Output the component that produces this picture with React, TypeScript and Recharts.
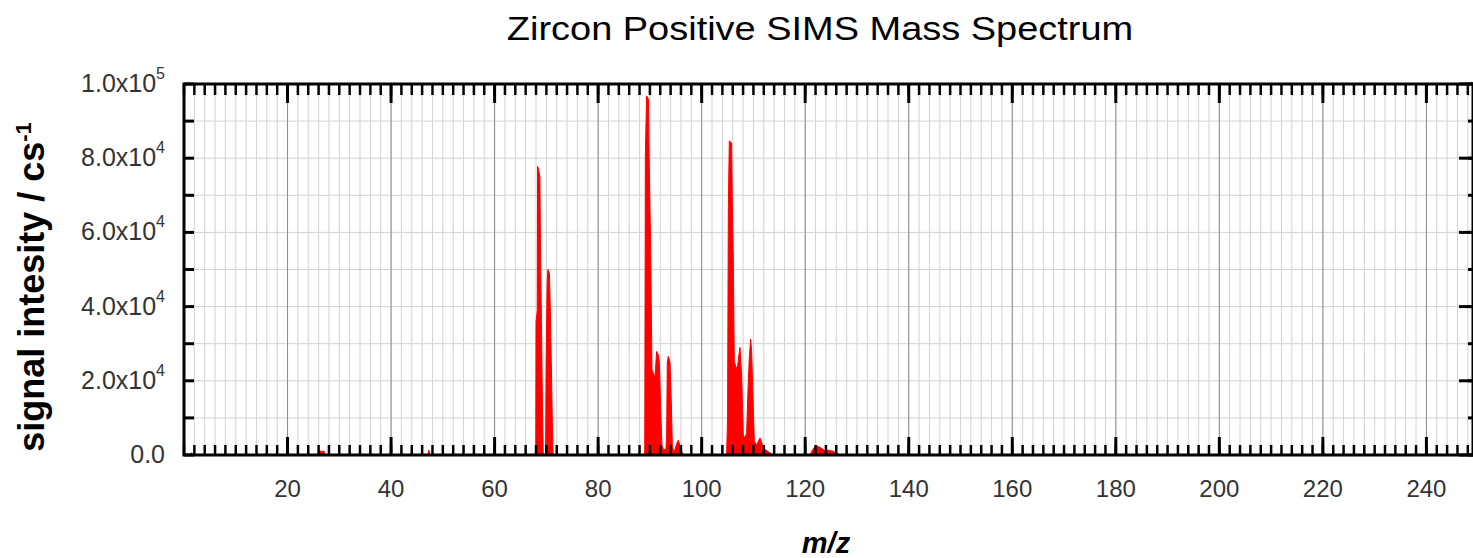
import { AreaChart, Area, XAxis, YAxis, CartesianGrid, ReferenceArea } from 'recharts';

// spectrum (m/z, counts per second)
const mz = [
  0, 1.1, 1.4, 1.7, 15.5, 15.8, 16.1, 26.0, 26.2, 26.6, 27.0, 27.3, 47.1, 47.3, 47.5,
  67.95, 68.0, 68.25, 68.3, 68.5, 68.75, 68.85, 69.05, 69.25, 69.4,
  69.85, 69.95, 70.15, 70.3, 70.6, 70.75, 70.95, 71.15, 71.3,
  89.0, 89.12, 89.35, 89.7, 89.88, 90.14, 90.27, 90.4, 90.66, 90.98, 91.3, 91.62, 91.82,
  91.95, 92.14, 92.33, 92.6, 93.1, 93.23, 93.36, 93.55, 93.88, 94.13, 94.33, 94.65,
  95.16, 95.49, 95.81, 96.13, 96.45,
  104.82, 105.0, 105.15, 105.34, 105.79, 105.92, 106.11, 106.3, 106.56, 106.88, 107.2,
  107.4, 107.72, 107.91, 108.04, 108.37, 108.69, 109.01, 109.2, 109.46, 109.65, 109.84,
  110.17, 110.62, 111.26, 111.58, 111.9, 112.87, 113.84,
  120.9, 121.6, 122.2, 122.9, 123.8, 124.5, 125.4, 126.7,
  138.9, 139.1, 139.3, 249,
];
const counts = [
  0, 0, 600, 0, 0, 500, 0, 0, 1200, 900, 1100, 0, 0, 1300, 0,
  0, 36000, 39000, 77800, 77000, 75000, 58000, 36000, 12000, 0,
  0, 24000, 46500, 50000, 49000, 40000, 25000, 9000, 0,
  0, 80000, 96800, 96000, 77600, 56000, 40000, 23000, 22000, 21000, 27900, 27000, 25000,
  19000, 10000, 2700, 1500, 1500, 5000, 25000, 26600, 25000, 14400, 2700, 500,
  3000, 4000, 2500, 1000, 0,
  0, 10000, 66700, 84700, 84000, 68500, 53200, 25200, 24000, 23000, 27000,
  29000, 21600, 12000, 5400, 4500, 6000, 20000, 26000, 31200, 28000, 19000,
  3700, 2700, 4600, 3500, 1800, 900, 0,
  0, 1800, 2500, 2000, 1200, 1300, 1000, 0,
  0, 400, 0, 0,
];

const xLabelTicks = [20, 40, 60, 80, 100, 120, 140, 160, 180, 200, 220, 240];
const xMinorTicks = Array.from({ length: 125 }, (_, i) => i * 2);
const yLabelTicks = [0, 20000, 40000, 60000, 80000, 100000];
const yMinorTicks = [0, 10000, 20000, 30000, 40000, 50000, 60000, 70000, 80000, 90000, 100000];

const data = mz.map((m, i) => ({ mz: m, counts: counts[i] }));

const W = 1473;
const H = 558;
// the plot box; two 1px axes sit on each of the left and bottom sides
const TOP = 84;
const BOTTOM = 455;
const LEFT = 184;
const RIGHT = W;
const M = { top: TOP, right: W - RIGHT, bottom: H - BOTTOM - 2, left: LEFT - 2 };
const FONT = '"Liberation Sans", Arial, sans-serif';

function sciParts(v: number): [string, string] {
  if (v === 0) return ['0.0', ''];
  const e = Math.floor(Math.log10(v));
  return [(v / Math.pow(10, e)).toFixed(1) + 'x10', String(e)];
}

const XMajorTick = ({ x, payload }: any) => (
  <g>
    <line x1={x} x2={x} y1={BOTTOM} y2={BOTTOM - 18} stroke="#000" strokeWidth={3} />
    <line x1={x} x2={x} y1={TOP} y2={TOP + 19} stroke="#000" strokeWidth={3} />
    <text x={x} y={BOTTOM + 42} textAnchor="middle" fontSize={24} fill="#333" fontFamily={FONT}>
      {payload.value}
    </text>
  </g>
);

const XMinorTick = ({ x }: any) => (
  <g>
    <line x1={x} x2={x} y1={BOTTOM} y2={BOTTOM - 10} stroke="#000" strokeWidth={2.5} />
    <line x1={x} x2={x} y1={TOP} y2={TOP + 11} stroke="#000" strokeWidth={2.5} />
  </g>
);

const YMajorTick = ({ y, payload }: any) => {
  const [base, exp] = sciParts(payload.value);
  return (
    <g>
      <line x1={RIGHT} x2={RIGHT - 14} y1={y} y2={y} stroke="#000" strokeWidth={3} />
      <text x={LEFT - 19} y={y + 8} textAnchor="end" fontSize={25} fill="#333" fontFamily={FONT}>
        {base}
        {exp && (
          <tspan dy={-13} fontSize={16}>
            {exp}
          </tspan>
        )}
      </text>
    </g>
  );
};

const YMinorTick = ({ y }: any) => (
  <g>
    <line x1={LEFT} x2={LEFT + 10} y1={y} y2={y} stroke="#000" strokeWidth={3} />
    <line x1={RIGHT} x2={RIGHT - 5} y1={y} y2={y} stroke="#000" strokeWidth={3} />
  </g>
);

export default function App() {
  return (
    <div style={{ position: 'absolute', left: 0, top: 0, width: W, height: H, background: '#fff', fontFamily: FONT }}>
      <AreaChart width={W} height={H} data={data} margin={M}>
        <XAxis xAxisId="minor" type="number" dataKey="mz" domain={[0, 249]} allowDataOverflow
          ticks={xMinorTicks} interval={0} height={1} axisLine={false} tickLine={false}
          tickSize={0} tickMargin={0} tick={(p: any) => <XMinorTick {...p} />} />
        <XAxis xAxisId="major" type="number" dataKey="mz" domain={[0, 249]} allowDataOverflow
          ticks={xLabelTicks} interval={0} height={1} axisLine={false} tickLine={false}
          tickSize={0} tickMargin={0} tick={(p: any) => <XMajorTick {...p} />} />
        <YAxis yAxisId="minor" type="number" domain={[0, 100000]} allowDataOverflow
          ticks={yMinorTicks} interval={0} width={1} axisLine={false} tickLine={false}
          tickSize={0} tickMargin={0} tick={(p: any) => <YMinorTick {...p} />} />
        <YAxis yAxisId="major" type="number" domain={[0, 100000]} allowDataOverflow
          ticks={yLabelTicks} interval={0} width={1} axisLine={false} tickLine={false}
          tickSize={0} tickMargin={0} tick={(p: any) => <YMajorTick {...p} />} />
        <CartesianGrid xAxisId="minor" yAxisId="minor" stroke="#d2d2d2" strokeWidth={1} />
        <CartesianGrid xAxisId="major" yAxisId="minor" horizontal={false} stroke="#8c8c8c" strokeWidth={1} />
        <Area xAxisId="major" yAxisId="major" type="linear" dataKey="counts" stroke="#ff0000"
          strokeWidth={1} fill="#ff0000" fillOpacity={1} isAnimationActive={false} dot={false}
          activeDot={false} />
        <ReferenceArea xAxisId="major" yAxisId="major" x1={0} x2={249} y1={0} y2={100000}
          fill="none" stroke="#000" strokeWidth={3} />
      </AreaChart>
      <div style={{ position: 'absolute', left: 820, top: 28, transform: 'translate(-50%, -50%) scaleX(1.15)',
        fontSize: 33, lineHeight: 1, whiteSpace: 'nowrap', color: '#000' }}>
        Zircon Positive SIMS Mass Spectrum
      </div>
      <div style={{ position: 'absolute', left: 31, top: 287, transform: 'translate(-50%, -50%) rotate(-90deg)',
        fontSize: 36, fontWeight: 'bold', lineHeight: 1, whiteSpace: 'nowrap', color: '#000' }}>
        signal intesity / cs<sup style={{ fontSize: 22 }}>-1</sup>
      </div>
      <div style={{ position: 'absolute', left: 826, top: 543, transform: 'translate(-50%, -50%)',
        fontSize: 29, fontWeight: 'bold', fontStyle: 'italic', lineHeight: 1, whiteSpace: 'nowrap', color: '#000' }}>
        m/z
      </div>
    </div>
  );
}
